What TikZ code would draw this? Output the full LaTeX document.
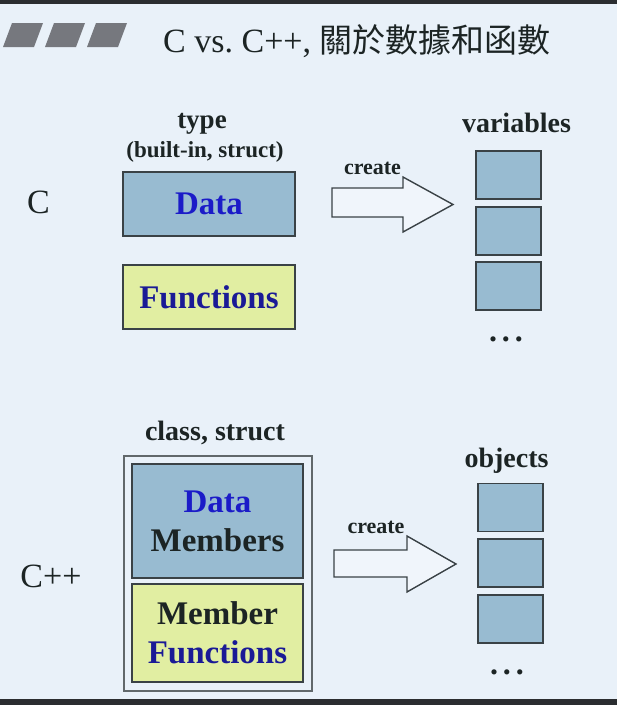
\documentclass[tikz,border=0pt]{standalone}
\usepackage{fontspec}
\setmainfont{Liberation Serif}
\newfontfamily\cjk{Noto Sans CJK TC}
\usetikzlibrary{positioning}
\definecolor{slideBg}{HTML}{E9F1F9}
\definecolor{edgeDark}{HTML}{2B2D30}
\definecolor{tabGray}{HTML}{76787E}
\definecolor{dataFill}{HTML}{98BBD1}
\definecolor{funcFill}{HTML}{E1EEA2}
\definecolor{boxStroke}{HTML}{3A4246}
\definecolor{dataBlue}{HTML}{1B1BC8}
\definecolor{funcBlue}{HTML}{1A1A96}
\definecolor{inkDark}{HTML}{1C2424}
\tikzset{
  slide/.style = {
    x=1pt, y=-1pt, inner sep=0pt,
  },
  databox/.style = {
    rectangle, draw=boxStroke, line width=1.4pt, fill=dataFill,
    minimum width=172pt, minimum height=64pt,
    font=\fontsize{33}{39}\selectfont\bfseries, text=dataBlue,
  },
  funcbox/.style = {
    databox, fill=funcFill, text=funcBlue,
  },
  membox/.style = {
    databox, minimum width=171pt, align=center, text=inkDark,
  },
  classbox/.style = {
    rectangle, draw=boxStroke!80, line width=1.1pt,
    minimum width=188pt, minimum height=235pt,
  },
  cell/.style = {
    rectangle, draw=boxStroke, line width=1.3pt, fill=dataFill,
    minimum width=65pt, minimum height=48pt,
  },
  tab/.style = {fill=tabGray},
  bigarr/.style = {draw=boxStroke, line width=1.4pt, fill=slideBg!70!white, line join=miter},
  head/.style = {font=\fontsize{28}{32}\selectfont\bfseries, text=inkDark, anchor=base},
  sub/.style = {font=\fontsize{23}{27}\selectfont\bfseries, text=inkDark, anchor=base},
  lang/.style = {font=\fontsize{34}{38}\selectfont, text=inkDark, anchor=base},
  dots/.style = {font=\fontsize{32}{36}\selectfont\bfseries, text=inkDark, anchor=base},
}
\newcommand\moredots{.\hspace{5pt}.\hspace{5pt}.}
\begin{document}
\begin{tikzpicture}[slide]
\useasboundingbox (0,0) rectangle (617,705);
\fill[slideBg] (0,0) rectangle (617,705);
\fill[edgeDark] (0,0) rectangle (617,4);
\fill[edgeDark] (0,699) rectangle (617,705);

% title bar
\fill[tab] (3,47) -- (34,47) -- (43,23) -- (12,23) -- cycle;
\fill[tab] (45,47) -- (76,47) -- (85,23) -- (54,23) -- cycle;
\fill[tab] (87,47) -- (118,47) -- (127,23) -- (96,23) -- cycle;
\node[anchor=base west, font=\fontsize{34}{38}\selectfont, text=inkDark] (ttl) at (163,52)
  {C vs.\ C++, {\cjk\fontsize{33}{38}\selectfont 關於數據和函數}};

% C
\node[lang] (lc) at (38.5,213) {C};
\node[head, font=\fontsize{27}{32}\selectfont\bfseries] (ttype) at (202,128) {type};
\node[sub] (tkind) at (205,157) {(built-in, struct)};
\node[databox] (data) at (209,204) {Data};
\node[funcbox] (func) at (209,297) {Functions};
\draw[bigarr] (332,188) -- (403,188) -- (403,177) -- (453,204.5)
  -- (403,232) -- (403,217) -- (332,217) -- cycle;
\node[sub, font=\fontsize{22}{26}\selectfont\bfseries] (mk1) at (372.5,174) {create};
\node[head] (tvar) at (516.5,132) {variables};
\node[cell] (v1) at (508.5,175) {};
\node[cell] (v2) at (508.5,231) {};
\node[cell] (v3) at (508.5,286) {};
\node[dots] (vmore) at (506,341) {\moredots};

% C++
\node[lang] (lcpp) at (51,587) {C++};
\node[head] (tcls) at (215,440) {class, struct};
\node[classbox] (cls) at (218,573.5) {};
\node[membox, minimum height=114pt] (dm) at (217.5,521)
  {\textcolor{dataBlue}{Data}\\Members};
\node[membox, minimum height=98pt, fill=funcFill] (mf) at (217.5,633)
  {Member\\\textcolor{funcBlue}{Functions}};
\draw[bigarr] (334,550) -- (407,550) -- (407,536) -- (456,564)
  -- (407,592) -- (407,577) -- (334,577) -- cycle;
\node[sub, font=\fontsize{22}{26}\selectfont\bfseries] (mk2) at (376,533) {create};
\node[head] (tobj) at (506.5,467) {objects};
\node[cell] (o1) at (510.5,507.5) {};
\node[cell] (o2) at (510.5,563) {};
\node[cell] (o3) at (510.5,619) {};
\node[dots] (omore) at (507,674) {\moredots};

\end{tikzpicture}
\end{document}
